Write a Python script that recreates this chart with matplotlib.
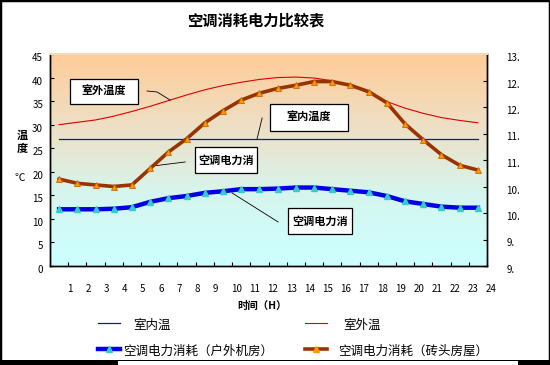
import numpy as np
import matplotlib
matplotlib.use('Agg')
import matplotlib.pyplot as plt
from matplotlib.colors import LinearSegmentedColormap
from matplotlib.lines import Line2D
from matplotlib.patches import Rectangle
from matplotlib.transforms import ScaledTranslation

plt.rcParams['font.family'] = ['Noto Sans CJK SC', 'DejaVu Sans']

# data
hours = list(range(1, 25))
indoor_temp = [27.0, 27.0, 27.0, 27.0, 27.0, 27.0, 27.0, 27.0, 27.0, 27.0, 27.0, 27.0,
               27.0, 27.0, 27.0, 27.0, 27.0, 27.0, 27.0, 27.0, 27.0, 27.0, 27.0, 27.0]
outdoor_temp = [30.0, 30.5, 31.0, 31.8, 32.8, 33.9, 35.1, 36.3, 37.4, 38.3, 39.0, 39.6,
                40.0, 40.1, 39.9, 39.3, 38.3, 36.7, 34.9, 33.5, 32.4, 31.5, 30.9, 30.4]
# AC power consumption (right axis)
power_outdoor_room = [10.07, 10.07, 10.07, 10.08, 10.11, 10.21, 10.28, 10.32, 10.38, 10.41, 10.45, 10.45,
                      10.46, 10.48, 10.48, 10.45, 10.42, 10.39, 10.32, 10.22, 10.17, 10.12, 10.10, 10.10]
power_brick_house = [10.64, 10.56, 10.53, 10.50, 10.53, 10.84, 11.15, 11.40, 11.70, 11.93, 12.13, 12.26,
                     12.35, 12.41, 12.48, 12.48, 12.41, 12.29, 12.08, 11.68, 11.38, 11.10, 10.90, 10.81]
left_ticks = [0, 5, 10, 15, 20, 25, 30, 35, 40, 45]
right_ticks = [9.0, 9.5, 10.0, 10.5, 11.0, 11.5, 12.0, 12.5, 13.0]
right_labels = ['9.', '9.', '10.', '10.', '11.', '11.', '12.', '12.', '13.']

NAVY = '#1414B4'
RED = '#DD0000'
BLUE = '#0000E6'
BROWN = '#993300'

pos = np.arange(len(hours)) + 0.5

fig = plt.figure(figsize=(5.5, 3.65), dpi=100)
ax = fig.add_axes([50/550, 1-266/365, 437/550, 212/365])
ax2 = ax.twinx()

# gradient background
cmap = LinearSegmentedColormap.from_list('bg', ['#CCFFFF', '#D6F6EE', '#EEDFC4', '#FFCC99'])
grad = np.linspace(0, 1, 256).reshape(-1, 1)
ax.imshow(grad, extent=[0, 1, 0, 1], transform=ax.transAxes, aspect='auto',
          cmap=cmap, origin='lower', zorder=0)

ax.plot(pos, outdoor_temp, color=RED, lw=0.8, zorder=3)
ax.plot(pos, indoor_temp, color=NAVY, lw=0.9, zorder=3)

ax2.plot(pos, power_brick_house, color=BROWN, lw=2.6, marker='^', ms=4.5,
         mfc='#FF9900', mec='#CC6600', mew=0.6)
ax2.plot(pos, power_outdoor_room, color=BLUE, lw=3.2, marker='^', ms=4.5,
         mfc='#33CCCC', mec='#33CCCC')

ax.set_xlim(0, 24)
ax.set_ylim(0, 45)
ax2.set_ylim(9, 13)

ax.set_xticks(hours)
ax.set_xticklabels([str(h) for h in hours], ha='left')
ax.set_yticks(left_ticks)
ax2.set_yticks(right_ticks)
ax2.set_yticklabels(right_labels)

ax.tick_params(axis='x', direction='in', length=3, width=0.8, labelsize=7, pad=13)
ax.tick_params(axis='y', direction='in', length=3, width=0.8, labelsize=7, pad=5)
ax2.tick_params(axis='y', direction='in', length=3, width=0.8, labelsize=7, pad=14)

shift = ScaledTranslation(0, -0.03, fig.dpi_scale_trans)
for lbl in ax.get_yticklabels() + ax2.get_yticklabels():
    lbl.set_transform(lbl.get_transform() + shift)
xshift = ScaledTranslation(-0.01, 0, fig.dpi_scale_trans)
for lbl in ax.get_xticklabels():
    lbl.set_transform(lbl.get_transform() + xshift)

for a in (ax, ax2):
    for s in ['left', 'right', 'bottom']:
        a.spines[s].set_color('black')
        a.spines[s].set_linewidth(1.0)
    a.spines['top'].set_color('#F0DDB8')
    a.spines['top'].set_linewidth(1.5)

# callout boxes (left axis coords) and their leader lines
callouts = [
    ('室外温度', (1.10, 34.4, 4.84, 39.7), [(5.33, 37.15), (5.88, 36.94), (6.59, 35.24)]),
    ('室内温度', (12.09, 28.66, 16.37, 34.39), [(11.65, 31.42), (11.37, 26.96)]),
    ('空调电力消', (7.97, 19.75, 11.37, 25.27), [(7.42, 22.08), (5.66, 21.23)]),
    ('空调电力消', (13.08, 6.79, 16.59, 12.31), [(12.53, 9.34), (10.0, 15.5)]),
]
for txt, (x0, y0, x1, y1), leader in callouts:
    ax.add_patch(Rectangle((x0, y0), x1-x0, y1-y0, fc='white', ec='black', lw=0.9, zorder=5))
    ax.text((x0+x1)/2, (y0+y1)/2, txt, ha='center', va='center', fontsize=8,
            fontweight='bold', zorder=6)
    lx, ly = zip(*leader)
    ax.plot(lx, ly, color='black', lw=0.6, zorder=5)

# titles / axis labels
fig.text(256/550, 1-20/365, '空调消耗电力比较表', ha='center', va='center',
         fontsize=11, fontweight='bold')
fig.text(262/550, 1-306/365, '时间（H）', ha='center', va='center', fontsize=7.5, fontweight='bold')
fig.text(22/550, 1-135/365, '温', ha='center', va='center', fontsize=8, fontweight='bold')
fig.text(22/550, 1-149/365, '度', ha='center', va='center', fontsize=8, fontweight='bold')
fig.text(20/550, 1-178/365, '℃', ha='center', va='center', fontsize=7.5)

# legend drawn by hand
def leg_line(x0, x1, y, color, lw, mfc=None):
    fig.add_artist(Line2D([x0/550, x1/550], [1-y/365, 1-y/365], color=color, lw=lw,
                          transform=fig.transFigure))
    if mfc:
        fig.add_artist(Line2D([(x0+x1)/2/550], [1-y/365], marker='^', ms=4.5, color=mfc,
                              mec=mfc, transform=fig.transFigure))

leg_line(98, 120, 323, NAVY, 0.9)
fig.text(133/550, 1-325/365, '室内温', fontsize=9, va='center')
leg_line(305, 327, 323, RED, 0.8)
fig.text(343/550, 1-325/365, '室外温', fontsize=9, va='center')
leg_line(98, 120, 349, BLUE, 3.2, '#33CCCC')
fig.text(123/550, 1-351/365, '空调电力消耗（户外机房）', fontsize=9, va='center')
leg_line(305, 327, 349, BROWN, 2.6, '#FF9900')
fig.text(338/550, 1-351/365, '空调电力消耗（砖头房屋）', fontsize=9, va='center')

# outer frame
fig.add_artist(Rectangle((0, 0), 1, 1, transform=fig.transFigure, fill=False, ec='black', lw=2.5))
fig.add_artist(Rectangle((0, 0), 1, 5/365, transform=fig.transFigure, fc='black', ec='none'))
fig.add_artist(Rectangle((118/550, 0), 400/550, 4/365, transform=fig.transFigure, fc='white', ec='none'))

fig.savefig('out.png', dpi=100)
